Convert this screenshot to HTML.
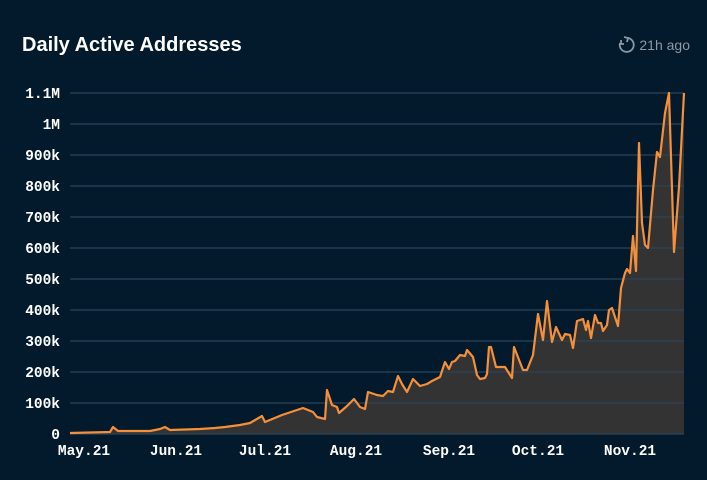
<!DOCTYPE html>
<html><head><style>
html,body{margin:0;padding:0;background:#021a2b;width:707px;height:480px;overflow:hidden}
</style></head><body>
<svg width="707" height="480" xmlns="http://www.w3.org/2000/svg">
<rect width="707" height="480" fill="#021a2b"/>
<text x="22" y="51" font-family="Liberation Sans, sans-serif" font-weight="bold" font-size="20" fill="#ffffff">Daily Active Addresses</text>
<g stroke="#8c98a4" stroke-width="1.8" fill="none"><path d="M628 38 A7 7 0 1 1 620 43"/><path d="M624 37 l4 1 -1 4"/><path d="M621 40 v4 h3"/></g>
<text x="690" y="50" text-anchor="end" font-family="Liberation Sans, sans-serif" font-size="14" fill="#8c98a4">21h ago</text>
<polygon fill="#333333" points="70,434 70,433 110,432 113,427 118,431 150,431 160,429 165,427 170,430 200,429 215,428 225,427 240,425 250,423 262,416 265,422 282,415 303,408 313,412 317,417 325,419 327,390 332,405 337,407 339,413 347,406 354,399 360,407 365,409 368,392 377,395 383,396 388,391 393,392 398,376 402,384 407,392 413,379 420,386 427,384 432,381 440,377 445,362 449,369 452,362 455,361 460,355 465,356 467,350 473,357 477,375 480,379 485,378 487,374 489,347 491,347 496,367 505,367 512,378 514,347 523,370 527,370 533,355 538,314 543,340 547,301 552,342 556,327 562,340 565,334 570,335 573,348 577,321 583,319 586,330 588,321 591,338 595,315 598,323 601,323 603,331 607,325 609,310 612,308 618,326 621,288 625,273 627,269 630,273 633,236 636,271 639,143 642,223 645,245 648,248 653,190 657,152 660,157 665,113 669,93 674,252 679,187 684,93 684,434"/>
<g stroke="#2a4458" stroke-width="1.5" opacity="0.85">
<line x1="70" x2="684" y1="93" y2="93"/><line x1="70" x2="684" y1="124" y2="124"/><line x1="70" x2="684" y1="155" y2="155"/><line x1="70" x2="684" y1="186" y2="186"/><line x1="70" x2="684" y1="217" y2="217"/><line x1="70" x2="684" y1="248" y2="248"/><line x1="70" x2="684" y1="279" y2="279"/><line x1="70" x2="684" y1="310" y2="310"/><line x1="70" x2="684" y1="341" y2="341"/><line x1="70" x2="684" y1="372" y2="372"/><line x1="70" x2="684" y1="403" y2="403"/><line x1="70" x2="684" y1="434" y2="434"/>
</g>
<polyline fill="none" stroke="#f58f3b" stroke-width="2.2" stroke-linejoin="round" points="70,433 110,432 113,427 118,431 150,431 160,429 165,427 170,430 200,429 215,428 225,427 240,425 250,423 262,416 265,422 282,415 303,408 313,412 317,417 325,419 327,390 332,405 337,407 339,413 347,406 354,399 360,407 365,409 368,392 377,395 383,396 388,391 393,392 398,376 402,384 407,392 413,379 420,386 427,384 432,381 440,377 445,362 449,369 452,362 455,361 460,355 465,356 467,350 473,357 477,375 480,379 485,378 487,374 489,347 491,347 496,367 505,367 512,378 514,347 523,370 527,370 533,355 538,314 543,340 547,301 552,342 556,327 562,340 565,334 570,335 573,348 577,321 583,319 586,330 588,321 591,338 595,315 598,323 601,323 603,331 607,325 609,310 612,308 618,326 621,288 625,273 627,269 630,273 633,236 636,271 639,143 642,223 645,245 648,248 653,190 657,152 660,157 665,113 669,93 674,252 679,187 684,93"/>
<g font-family="Liberation Mono, monospace" font-weight="bold" font-size="14.5" fill="#ffffff" text-anchor="end">
<text x="60" y="98">1.1M</text><text x="60" y="129">1M</text><text x="60" y="160">900k</text><text x="60" y="191">800k</text><text x="60" y="222">700k</text><text x="60" y="253">600k</text><text x="60" y="284">500k</text><text x="60" y="315">400k</text><text x="60" y="346">300k</text><text x="60" y="377">200k</text><text x="60" y="408">100k</text><text x="60" y="439">0</text>
</g>
<g font-family="Liberation Mono, monospace" font-weight="bold" font-size="14.5" fill="#ffffff" text-anchor="middle">
<text x="84" y="455">May.21</text><text x="176" y="455">Jun.21</text><text x="265" y="455">Jul.21</text><text x="356" y="455">Aug.21</text><text x="449" y="455">Sep.21</text><text x="538" y="455">Oct.21</text><text x="630" y="455">Nov.21</text>
</g>
</svg>
</body></html>
